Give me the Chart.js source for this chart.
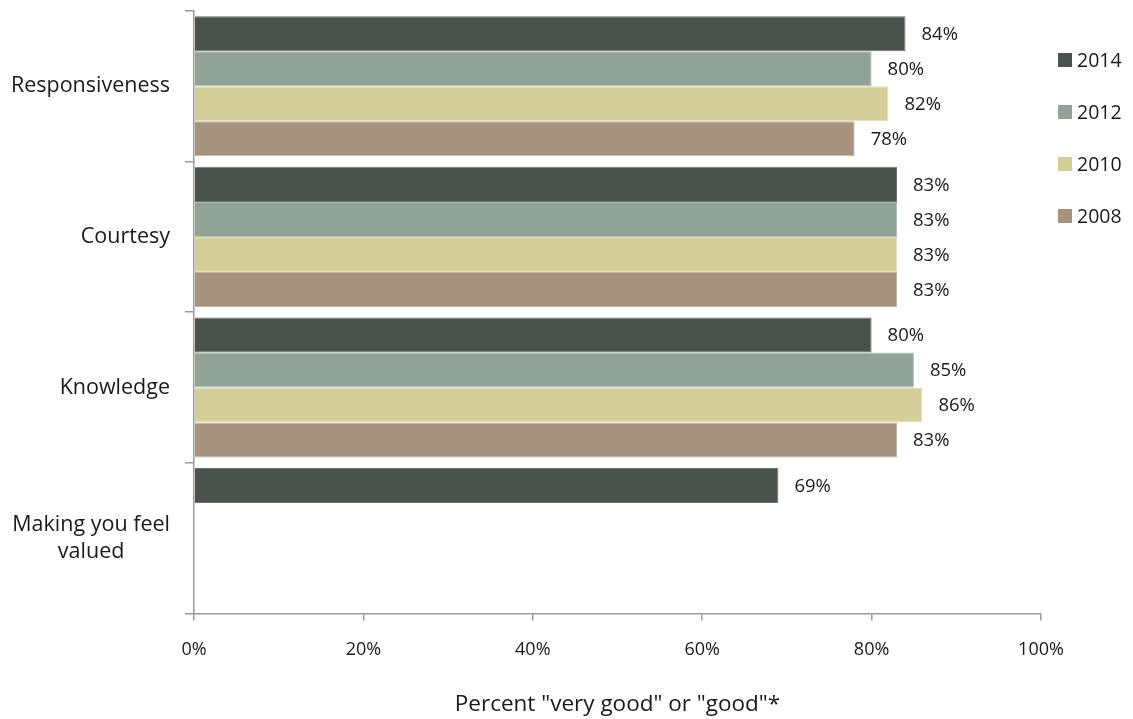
<!DOCTYPE html>
<html>
<head>
<meta charset="utf-8">
<script src="https://cdn.jsdelivr.net/npm/chart.js@4/dist/chart.umd.min.js"></script>
<style>
  html, body { margin: 0; padding: 0; background: #fff; }
  #wrap { width: 1133px; height: 719px; position: relative; }
</style>
</head>
<body>
<div id="wrap"><canvas id="c"></canvas></div>
<script>
const categories = [["Responsiveness"], ["Courtesy"], ["Knowledge"], ["Making you feel", "valued"]];
const seriesLabels = ["2014", "2012", "2010", "2008"];
const values2014 = [84, 83, 80, 69];
const values2012 = [80, 83, 85, null];
const values2010 = [82, 83, 86, null];
const values2008 = [78, 83, 83, null];
const xTicks = [0, 20, 40, 60, 80, 100];
const axisTitle = 'Percent "very good" or "good"*';

const colors = ["#4a524c", "#91a297", "#d4cf99", "#a5937e"];
const borders = ["#6b736d", "#b2bfb6", "#e6e2bd", "#c4b5a3"];
const FONT = "'Open Sans', sans-serif";
const TEXT = "#1a1a1a";
const AXIS = "#9a9a9a";

const seriesValues = [values2014, values2012, values2010, values2008];

const labelPlugin = {
  id: 'labels',
  afterDatasetsDraw(chart) {
    const ctx = chart.ctx;
    ctx.save();
    ctx.font = "18.5px " + FONT;
    ctx.fillStyle = TEXT;
    ctx.textBaseline = 'middle';
    ctx.textAlign = 'left';
    chart.data.datasets.forEach((ds, di) => {
      const meta = chart.getDatasetMeta(di);
      meta.data.forEach((bar, i) => {
        const v = ds.data[i];
        if (v === null || v === undefined) return;
        ctx.fillText(v + '%', bar.x + 16, bar.y + 1);
      });
    });
    // category labels
    const y = chart.scales.y;
    ctx.font = "21.5px " + FONT;
    const rightX = 170;
    const lh = 27;
    categories.forEach((lines, i) => {
      const cy = y.getPixelForValue(i);
      const widest = Math.max(...lines.map(l => ctx.measureText(l).width));
      const cx = rightX - widest / 2;
      ctx.textAlign = 'center';
      lines.forEach((l, k) => {
        ctx.fillText(l, cx, cy + (k - (lines.length - 1) / 2) * lh);
      });
    });
    // legend
    ctx.font = "19.5px " + FONT;
    ctx.textAlign = 'left';
    seriesLabels.forEach((s, i) => {
      const cy = 60 + i * 52;
      ctx.fillStyle = colors[i];
      ctx.fillRect(1058, cy - 7, 14, 14);
      ctx.fillStyle = TEXT;
      ctx.fillText(s, 1077, cy + 1);
    });
    ctx.restore();
  }
};

new Chart(document.getElementById('c'), {
  type: 'bar',
  data: {
    labels: categories.map(c => c.join(' ')),
    datasets: seriesLabels.map((s, i) => ({
      label: s,
      data: seriesValues[i],
      backgroundColor: colors[i],
      borderColor: borders[i],
      borderWidth: 1,
      categoryPercentage: 0.93,
      barPercentage: 1.0
    }))
  },
  options: {
    indexAxis: 'y',
    responsive: true,
    maintainAspectRatio: false,
    animation: false,
    layout: { padding: { top: 11, right: 92, bottom: 1, left: 0 } },
    plugins: { legend: { display: false }, tooltip: { enabled: false } },
    scales: {
      x: {
        min: 0, max: 100,
        afterBuildTicks(scale) { scale.ticks = xTicks.map(v => ({ value: v })); },
        ticks: {
          callback: v => v + '%',
          font: { family: FONT, size: 18 }, color: TEXT, padding: 19, maxRotation: 0
        },
        grid: { drawOnChartArea: false, drawTicks: true, tickLength: 7, color: AXIS, lineWidth: 1.5 },
        border: { display: true, color: AXIS, width: 1.5 },
        title: {
          display: true, text: axisTitle,
          font: { family: FONT, size: 22.5 }, color: TEXT,
          padding: { top: 11, bottom: 0 }
        }
      },
      y: {
        afterFit(scale) { scale.width = 194; },
        ticks: { display: false },
        grid: { offset: true, drawOnChartArea: false, drawTicks: true, tickLength: 9, color: AXIS, lineWidth: 1.5 },
        border: { display: true, color: AXIS, width: 1.5 }
      }
    }
  },
  plugins: [labelPlugin]
});
</script>
</body>
</html>
